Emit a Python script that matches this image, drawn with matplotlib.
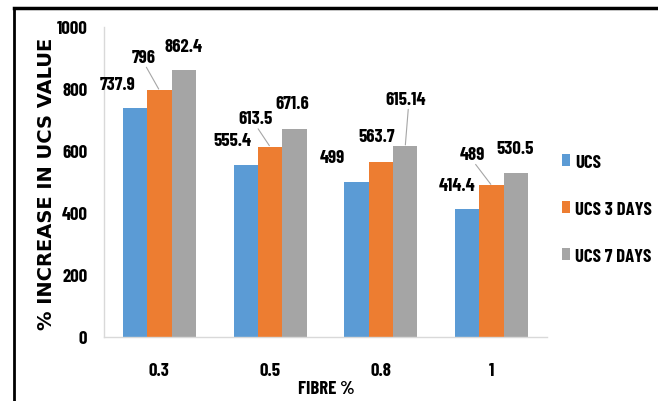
import numpy as np
import matplotlib
matplotlib.use("Agg")
import matplotlib.pyplot as plt
from matplotlib.lines import Line2D

# fibre content and % increase in UCS for each curing period
fibre = ["0.3", "0.5", "0.8", "1"]
ucs = [737.9, 555.4, 499, 414.4]
ucs_3days = [796, 613.5, 563.7, 489]
ucs_7days = [862.4, 671.6, 615.14, 530.5]
series_names = ["UCS", "UCS 3 DAYS", "UCS 7 DAYS"]
y_ticks = [0, 200, 400, 600, 800, 1000]

colors = ["#5B9BD5", "#ED7D31", "#A5A5A5"]
narrow = ["Barlow Condensed", "DejaVu Sans"]
fs = 13.5

# label offsets (pixels) from the top of each bar, and whether a leader line is drawn
label_offsets = [
    [(-17, 24, False), (-13, 24, False), (-24, 25, False), (-10, 23, False)],
    [(-16, 33, True), (-15, 28, True), (-4, 26, False), (-19, 31, True)],
    [(0, 23, False), (-2, 25, False), (0, 47, True), (-1, 24, False)],
]

W, H = 658, 402
fig = plt.figure(figsize=(W / 100, H / 100), dpi=100)
ax = fig.add_axes([104 / W, 1 - 338 / H, (547 - 104) / W, (338 - 28) / H])

x = np.arange(len(fibre))
width = 0.22
all_series = [ucs, ucs_3days, ucs_7days]
for i, vals in enumerate(all_series):
    pos = x + (i - 1) * width
    ax.bar(pos, vals, width, color=colors[i], label=series_names[i])
    for j, v in enumerate(vals):
        dx, dy, leader = label_offsets[i][j]
        ax.annotate(f"{v:g}", xy=(pos[j], v), xytext=(dx, dy),
                    textcoords="offset pixels", ha="center", va="center",
                    fontsize=fs, fontweight="bold", family=narrow)
        if leader:
            ax.annotate("", xy=(pos[j], v), xytext=(dx + 3, dy - 10),
                        textcoords="offset pixels",
                        arrowprops=dict(arrowstyle="-", color="#a6a6a6", lw=0.8,
                                        shrinkA=0, shrinkB=1))

ax.set_xlim(-0.5, len(fibre) - 0.5)
ax.set_ylim(0, 1000)
ax.set_xticks(x)
ax.set_xticklabels(fibre, fontsize=fs, fontweight="bold", family=narrow)
ax.set_yticks(y_ticks)
ax.set_yticklabels([str(t) for t in y_ticks], fontsize=fs, fontweight="bold", family=narrow)
ax.tick_params(length=0)
ax.tick_params(axis="y", pad=12)
ax.tick_params(axis="x", pad=18)
for side in ["top", "right"]:
    ax.spines[side].set_visible(False)
for side in ["left", "bottom"]:
    ax.spines[side].set_color("#d9d9d9")
    ax.spines[side].set_linewidth(1.0)

fig.text(47 / W, 1 - 184 / H, "% INCREASE IN UCS VALUE", rotation=90,
         ha="center", va="center", fontsize=14, fontweight="bold")
fig.text(326 / W, 1 - 390 / H, "FIBRE %", ha="center", va="center",
         fontsize=fs, fontweight="bold", family=narrow)

fig.legend(loc="upper left", bbox_to_anchor=(562 / W, 1 - 155 / H), frameon=False,
           prop=dict(family=narrow, weight="bold", size=fs),
           borderpad=0, borderaxespad=0,
           handlelength=0.45, handleheight=0.6, handletextpad=0.25, labelspacing=1.6)

# frame around the chart and the caption line running above it
fig.add_artist(Line2D([14 / W, 14 / W], [0, 1 - 9 / H], color="black", lw=2,
                      transform=fig.transFigure))
fig.add_artist(Line2D([14 / W, 1], [1 - 9 / H, 1 - 9 / H], color="black", lw=2.5,
                      transform=fig.transFigure))
fig.text(2 / W, 1 + 4 / H, "Increasing trend of UCS value with glass fibre",
         ha="left", va="baseline", fontsize=12, family="Liberation Serif")

fig.savefig("out.png", dpi=100)
